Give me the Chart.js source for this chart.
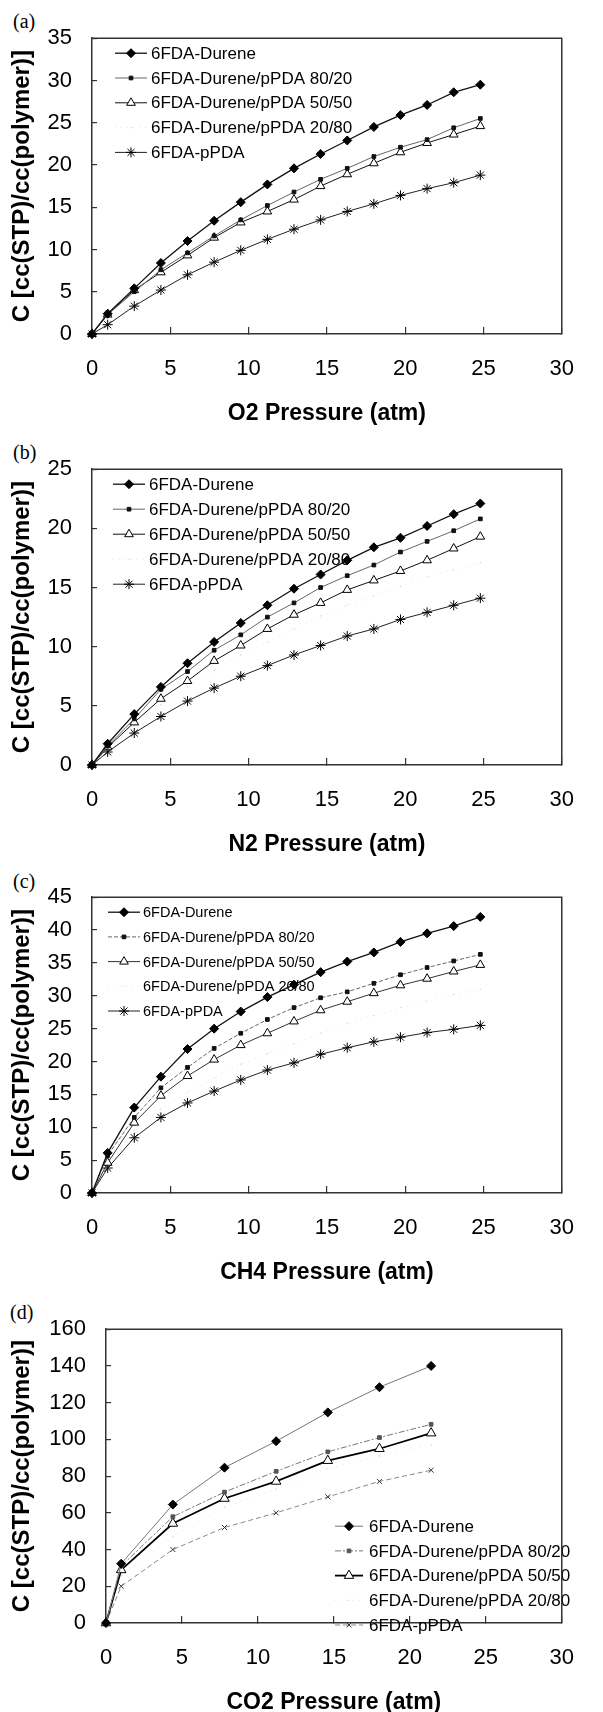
<!DOCTYPE html>
<html>
<head>
<meta charset="utf-8">
<script src="https://cdn.jsdelivr.net/npm/chart.js@4.4.1/dist/chart.umd.min.js"></script>
<style>
  body { margin: 0; width: 603px; height: 1712px; overflow: hidden; background: #fff; position: relative; }
  canvas { position: absolute; left: 0; }
  .tag { position: absolute; font-family: "Liberation Serif", "Times New Roman", serif; font-size: 20px; line-height: 24px; color: #000; }
</style>
</head>
<body>
<div class="tag" style="left:13px;top:9px">(a)</div>
<div class="tag" style="left:13px;top:440px">(b)</div>
<div class="tag" style="left:13px;top:869px">(c)</div>
<div class="tag" style="left:10px;top:1300px">(d)</div>
<canvas id="chartA" width="603" height="430" style="top:0px"></canvas>
<canvas id="chartB" width="603" height="430" style="top:431px"></canvas>
<canvas id="chartC" width="603" height="430" style="top:859px"></canvas>
<canvas id="chartD" width="603" height="428" style="top:1291px"></canvas>
<script>
var seriesNames = ['6FDA-Durene', '6FDA-Durene/pPDA 80/20', '6FDA-Durene/pPDA 50/50', '6FDA-Durene/pPDA 20/80', '6FDA-pPDA'];
var xTicks = [0, 5, 10, 15, 20, 25, 30];
var pressure = [0, 1.0, 2.7, 4.4, 6.1, 7.8, 9.5, 11.2, 12.9, 14.6, 16.3, 18.0, 19.7, 21.4, 23.1, 24.8];
var pressureCO2 = [0, 1.0, 4.4, 7.8, 11.2, 14.6, 18.0, 21.4];

var o2Durene = [0, 2.4, 5.4, 8.4, 11.0, 13.4, 15.6, 17.7, 19.6, 21.3, 22.9, 24.5, 25.9, 27.1, 28.6, 29.5];
var o2Mix8020 = [0, 2.3, 5.0, 7.6, 9.6, 11.6, 13.5, 15.2, 16.8, 18.3, 19.6, 21.0, 22.1, 23.0, 24.4, 25.5];
var o2Mix5050 = [0, 2.3, 5.2, 7.3, 9.3, 11.4, 13.2, 14.5, 15.9, 17.5, 18.9, 20.2, 21.5, 22.6, 23.6, 24.6];
var o2Mix2080 = [];
var o2PPDA = [0, 1.1, 3.3, 5.2, 7.0, 8.5, 9.9, 11.2, 12.4, 13.5, 14.5, 15.4, 16.4, 17.2, 17.9, 18.8];

var n2Durene = [0, 1.8, 4.3, 6.6, 8.6, 10.4, 12.0, 13.5, 14.9, 16.1, 17.3, 18.4, 19.2, 20.2, 21.2, 22.1];
var n2Mix8020 = [0, 1.6, 3.9, 6.4, 7.9, 9.7, 11.0, 12.5, 13.7, 15.0, 16.0, 16.9, 18.0, 18.9, 19.8, 20.8];
var n2Mix5050 = [0, 1.5, 3.6, 5.6, 7.1, 8.8, 10.1, 11.5, 12.7, 13.7, 14.8, 15.6, 16.4, 17.3, 18.3, 19.3];
var n2Mix2080 = [0, 1.4, 3.3, 5.1, 6.6, 8.0, 9.3, 10.4, 11.5, 12.6, 13.5, 14.3, 15.1, 15.9, 16.5, 17.1];
var n2PPDA = [0, 1.1, 2.7, 4.1, 5.4, 6.5, 7.5, 8.4, 9.3, 10.1, 10.9, 11.5, 12.3, 12.9, 13.5, 14.1];

var ch4Durene = [0, 6.1, 13.0, 17.7, 21.9, 25.0, 27.6, 29.8, 31.7, 33.6, 35.2, 36.6, 38.2, 39.5, 40.6, 42.0];
var ch4Mix8020 = [0, 5.7, 11.5, 16.0, 19.1, 22.0, 24.3, 26.4, 28.2, 29.7, 30.6, 31.9, 33.2, 34.3, 35.3, 36.3];
var ch4Mix5050 = [0, 4.6, 10.7, 14.8, 17.8, 20.3, 22.5, 24.3, 26.1, 27.8, 29.1, 30.4, 31.6, 32.6, 33.7, 34.7];
var ch4Mix2080 = [0, 4.4, 9.6, 12.8, 15.3, 17.5, 19.6, 21.2, 22.7, 24.3, 25.8, 27.0, 28.2, 29.2, 30.2, 31.0];
var ch4PPDA = [0, 3.8, 8.4, 11.5, 13.7, 15.5, 17.2, 18.7, 19.8, 21.1, 22.1, 23.0, 23.7, 24.4, 24.9, 25.5];

var co2Durene = [0, 32.3, 64.5, 84.6, 99.0, 114.7, 128.4, 140.0];
var co2Mix8020 = [0, 31.0, 57.9, 71.3, 82.6, 93.2, 101.0, 108.2];
var co2Mix5050 = [0, 28.9, 54.2, 67.8, 77.1, 88.4, 94.9, 103.4];
var co2Mix2080 = [0, 26.0, 47.0, 63.0, 73.0, 84.0, 91.0, 97.0];
var co2PPDA = [0, 20.0, 40.0, 52.0, 60.0, 68.7, 77.1, 83.2];

var fontFamily = '"Liberation Sans", Arial, sans-serif';

// line + marker legend drawn inside the plot box
var insideLegend = {
  id: 'insideLegend',
  afterDatasetsDraw: function(chart, args, o) {
    var ctx = chart.ctx, a = chart.chartArea;
    ctx.save();
    chart.data.datasets.forEach(function(ds, i) {
      var y = a.top + o.top + i * o.gap;
      var x0 = a.left + o.left;
      ctx.strokeStyle = ds.borderColor;
      ctx.lineWidth = ds.borderWidth;
      ctx.setLineDash(ds.borderDash || []);
      ctx.beginPath();
      ctx.moveTo(x0, y);
      ctx.lineTo(x0 + o.line, y);
      ctx.stroke();
      ctx.setLineDash([]);
      ctx.fillStyle = ds.pointBackgroundColor;
      ctx.strokeStyle = ds.pointBorderColor;
      ctx.lineWidth = ds.pointBorderWidth;
      if (Chart.helpers && Chart.helpers.drawPoint && ds.pointRadius > 0) {
        Chart.helpers.drawPoint(ctx, {pointStyle: ds.pointStyle, radius: ds.pointRadius, borderWidth: ds.pointBorderWidth, rotation: 0}, x0 + o.line / 2, y);
      }
      ctx.fillStyle = '#000';
      ctx.font = o.size + 'px ' + fontFamily;
      ctx.textBaseline = 'middle';
      ctx.textAlign = 'left';
      ctx.fillText(ds.label, x0 + o.line + o.textGap, y + 1);
    });
    ctx.restore();
  }
};

var frame = {
  id: 'frame',
  afterDraw: function(chart) {
    var a = chart.chartArea, ctx = chart.ctx;
    ctx.save();
    ctx.strokeStyle = '#333';
    ctx.lineWidth = 1.5;
    ctx.beginPath();
    ctx.moveTo(a.left, a.top);
    ctx.lineTo(a.right, a.top);
    ctx.lineTo(a.right, a.bottom);
    ctx.stroke();
    ctx.restore();
  }
};

function plainStyles() {
  return [
    {borderColor: '#111', borderWidth: 1.3, pointStyle: 'rectRot', pointRadius: 4.5, pointBackgroundColor: '#000', pointBorderColor: '#000', pointBorderWidth: 1},
    {borderColor: '#666', borderWidth: 1, pointStyle: 'rect', pointRadius: 2.6, pointBackgroundColor: '#111', pointBorderColor: '#111', pointBorderWidth: 1},
    {borderColor: '#111', borderWidth: 1, pointStyle: 'triangle', pointRadius: 5, pointBackgroundColor: '#fff', pointBorderColor: '#000', pointBorderWidth: 1},
    {borderColor: 'rgba(0,0,0,0.11)', borderWidth: 1, borderDash: [1, 5], pointStyle: 'circle', pointRadius: 0.8, pointBackgroundColor: 'rgba(0,0,0,0.14)', pointBorderColor: 'rgba(0,0,0,0)', pointBorderWidth: 0},
    {borderColor: '#222', borderWidth: 1, pointStyle: 'star', pointRadius: 5, pointBackgroundColor: '#000', pointBorderColor: '#000', pointBorderWidth: 1}
  ];
}

function makeChart(id, xs, series, yMax, yStep, xTitle, leftWidth, areaBottomSpace, styles, legendOpts) {
  var datasets = series.map(function(ys, i) {
    var ds = {
      label: seriesNames[i],
      data: ys.map(function(y, j) { return {x: xs[j], y: y}; }),
      showLine: true,
      clip: false
    };
    Object.keys(styles[i]).forEach(function(k) { ds[k] = styles[i][k]; });
    return ds;
  });
  return new Chart(document.getElementById(id).getContext('2d'), {
    type: 'scatter',
    data: {datasets: datasets},
    options: {
      responsive: false,
      animation: false,
      layout: {padding: {top: 20, right: 14, left: 0, bottom: 0}},
      plugins: {legend: {display: false}, tooltip: {enabled: false}, insideLegend: legendOpts},
      scales: {
        x: {
          type: 'linear', min: xTicks[0], max: xTicks[xTicks.length - 1],
          afterBuildTicks: function(s) { s.ticks = xTicks.map(function(v) { return {value: v}; }); },
          ticks: {padding: 29, color: '#000', maxRotation: 0, font: {family: fontFamily, size: 22}},
          grid: {drawOnChartArea: false, tickLength: -7, color: '#333', lineWidth: 1.2},
          border: {color: '#333', width: 1.5},
          title: {display: true, text: xTitle, color: '#000', font: {family: fontFamily, size: 23, weight: 'bold'}, padding: {top: 0, bottom: 3}},
          afterFit: function(s) { s.height = areaBottomSpace; }
        },
        y: {
          min: 0, max: yMax,
          ticks: {stepSize: yStep, padding: 25, color: '#000', font: {family: fontFamily, size: 22}},
          grid: {drawOnChartArea: false, tickLength: -5, color: '#333', lineWidth: 1.2},
          border: {color: '#333', width: 1.5},
          title: {display: true, text: 'C [cc(STP)/cc(polymer)]', color: '#000', font: {family: fontFamily, size: 24, weight: 'bold'}, padding: {top: 8, bottom: 0}},
          afterFit: function(s) { s.width = leftWidth; }
        }
      }
    },
    plugins: [insideLegend, frame]
  });
}

var topLegend = {left: 23, top: 15, gap: 24.8, line: 32, textGap: 4, size: 17};

makeChart('chartA', pressure, [o2Durene, o2Mix8020, o2Mix5050, o2Mix2080, o2PPDA], 35, 5,
  'O2 Pressure (atm)', 92, 96, plainStyles(), topLegend);

makeChart('chartB', pressure, [n2Durene, n2Mix8020, n2Mix5050, n2Mix2080, n2PPDA], 25, 5,
  'N2 Pressure (atm)', 92, 96, plainStyles(), {left: 21, top: 15, gap: 25, line: 32, textGap: 4, size: 17});

var ch4Styles = plainStyles();
ch4Styles[1].borderDash = [4, 2];
ch4Styles[2].borderColor = '#333';
makeChart('chartC', pressure, [ch4Durene, ch4Mix8020, ch4Mix5050, ch4Mix2080, ch4PPDA], 45, 5,
  'CH4 Pressure (atm)', 92, 96, ch4Styles, {left: 16, top: 15, gap: 24.7, line: 32, textGap: 3, size: 14.5});

var co2Styles = plainStyles();
co2Styles[0].borderColor = '#777';
co2Styles[0].borderWidth = 1;
co2Styles[1].borderColor = '#777';
co2Styles[1].borderDash = [6, 2, 2, 2];
co2Styles[1].pointBackgroundColor = '#555';
co2Styles[1].pointBorderColor = '#555';
co2Styles[2].borderColor = '#000';
co2Styles[2].borderWidth = 1.8;
co2Styles[2].pointRadius = 5.5;
co2Styles[4].borderColor = '#888';
co2Styles[4].borderDash = [5, 3];
co2Styles[4].pointStyle = 'crossRot';
co2Styles[4].pointRadius = 3.5;
co2Styles[4].pointBorderColor = '#333';
makeChart('chartD', pressureCO2, [co2Durene, co2Mix8020, co2Mix5050, co2Mix2080, co2PPDA], 160, 20,
  'CO2 Pressure (atm)', 106, 96, co2Styles, {left: 229, top: 197, gap: 24.7, line: 28, textGap: 6, size: 17});
</script>
</body>
</html>
